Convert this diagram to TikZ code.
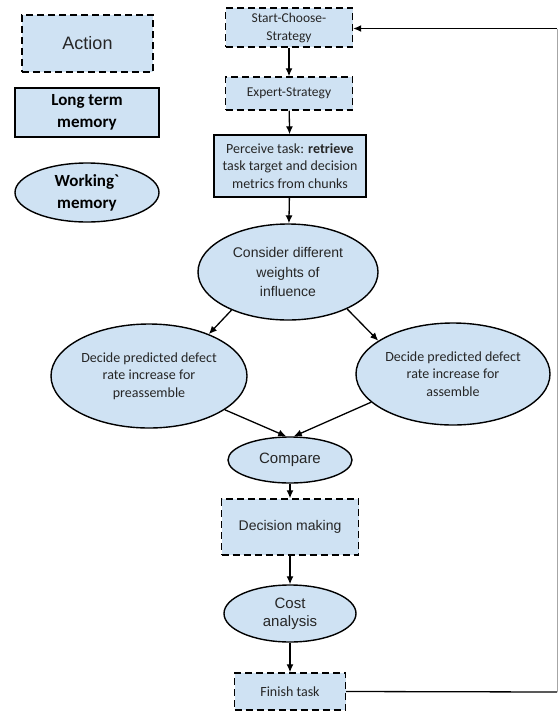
\documentclass[tikz,border=0pt]{standalone}
\usepackage{fontspec}
\setmainfont{Carlito}
% same face without the TeX quote mapping, for a literal grave accent
\newfontfamily\rawcarlito{Carlito}
\newfontfamily\arialish{Liberation Sans}
\usetikzlibrary{shapes.geometric,arrows.meta}
\definecolor{boxfill}{HTML}{CFE2F3}
\definecolor{ink}{HTML}{262626}
\begin{document}
\begin{tikzpicture}[x=1pt,y=-1pt,
  base/.style={fill=boxfill,draw=black,line width=1.4pt,text=ink,align=center,inner sep=0pt},
  actionbox/.style={base,rectangle,dash pattern=on 7pt off 4pt},
  memorybox/.style={base,rectangle},
  workbubble/.style={base,ellipse},
  flow/.style={line width=1.3pt,-{Latex[length=8pt,width=7pt]}},
  calibri/.style={font=\fontsize{14}{17.5}\selectfont},
  arial/.style={font=\arialish\fontsize{14}{19.5}\selectfont}
]
\useasboundingbox (0,0) rectangle (558,713);

% legend
\node[actionbox,minimum width=131pt,minimum height=57pt,
      font=\arialish\fontsize{18}{21}\selectfont] (action) at (87.5,43.5) {Action};
\node[memorybox,minimum width=144pt,minimum height=49pt,text=black,
      font=\bfseries\fontsize{17}{22}\selectfont] (ltm) at (87,112.5) {Long term\\memory};
\node[workbubble,minimum width=144pt,minimum height=59pt,text=black,
      font=\bfseries\fontsize{17}{22}\selectfont] (wm) at (87,192.5) {Working{\rawcarlito\symbol{96}}\\memory};

% main flow
\node[actionbox,minimum width=127pt,minimum height=39pt,
      font=\fontsize{13.5}{18}\selectfont] (start) at (289,27.5) {Start-Choose-\\Strategy};
\node[actionbox,minimum width=127pt,minimum height=33pt,
      font=\fontsize{13.5}{18}\selectfont] (expert) at (289,93.5) {Expert-Strategy};
\node[memorybox,minimum width=152pt,minimum height=62pt,calibri] (perceive) at (290,166)
      {Perceive task: \textbf{retrieve}\\task target and decision\\metrics from chunks};
\node[workbubble,minimum width=180pt,minimum height=96pt,arial] (weights) at (288,272)
      {Consider different\\weights of\\influence};
\node[workbubble,minimum width=196pt,minimum height=104pt,calibri] (pre) at (149,376)
      {Decide predicted defect\\rate increase for\\preassemble};
\node[workbubble,minimum width=194pt,minimum height=102pt,calibri] (asm) at (453,374)
      {Decide predicted defect\\rate increase for\\assemble};
\node[workbubble,minimum width=124pt,minimum height=46pt,
      font=\arialish\fontsize{15}{18}\selectfont] (compare) at (290,460) {Compare};
\node[actionbox,minimum width=137pt,minimum height=56pt,arial] (decide) at (290,527)
      {Decision making};
\node[workbubble,minimum width=132pt,minimum height=57pt,
      font=\arialish\fontsize{15}{18}\selectfont] (cost) at (290,613.5) {Cost\\analysis};
\node[actionbox,minimum width=111pt,minimum height=37pt,
      font=\fontsize{14}{17}\selectfont] (finish) at (290,691.5) {Finish task};

% arrows
\draw[flow] (start) -- (expert);
\draw[flow] (expert) -- (perceive);
\draw[flow] (perceive) -- (weights);
\draw[flow] (weights.214) -- (pre.35);
\draw[flow] (weights.328) -- (asm.156);
\draw[flow] (pre.336) -- (compare.99);
\draw[flow] (asm.199) -- (compare.81);
\draw[flow] (compare) -- (decide);
\draw[flow] (decide) -- (cost);
\draw[flow] (cost) -- (finish);

% return loop back to the start
\coordinate (loopbot) at (557,692);
\coordinate (looptop) at (557,28.5);
\draw[line width=1.3pt] (finish.east) -- (loopbot);
\draw[line width=0.8pt,draw=black!35] (loopbot) -- (looptop);
\draw[flow] (looptop) -- (start.east |- looptop);
\end{tikzpicture}
\end{document}
